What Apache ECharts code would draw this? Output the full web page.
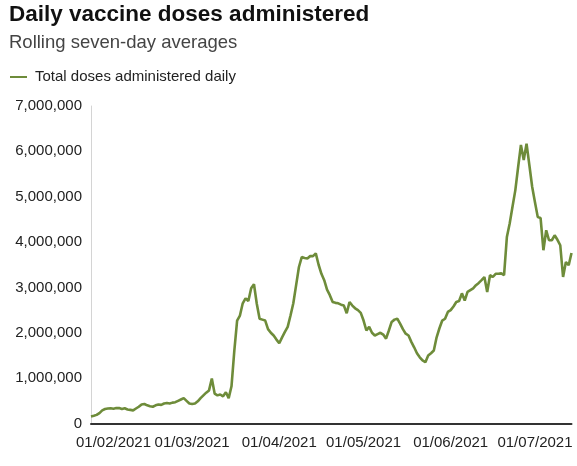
<!DOCTYPE html>
<html>
<head>
<meta charset="utf-8">
<script src="https://cdn.jsdelivr.net/npm/echarts@6/dist/echarts.min.js"></script>
<style>
  html, body { margin: 0; padding: 0; background: #fff; }
  #chart { width: 577px; height: 466px; }
</style>
</head>
<body>
<div id="chart"></div>
<script>
// Rolling seven-day average of vaccine doses per day, 24/01/2021 to 14/07/2021
const startDate = [2021, 0, 24];
const dailyDoses = [
  155000, 170000, 190000, 230000, 290000, 320000, 330000, 335000, 325000, 340000,
  340000, 320000, 335000, 310000, 300000, 290000, 330000, 370000, 420000, 430000,
  400000, 380000, 370000, 400000, 420000, 410000, 440000, 450000, 440000, 460000,
  470000, 500000, 530000, 560000, 500000, 440000, 430000, 440000, 490000, 560000,
  620000, 680000, 730000, 990000, 660000, 620000, 640000, 600000, 690000, 560000,
  820000, 1600000, 2270000, 2380000, 2650000, 2760000, 2700000, 2980000, 3070000, 2640000,
  2310000, 2290000, 2270000, 2080000, 2000000, 1940000, 1850000, 1770000, 1900000, 2020000,
  2130000, 2380000, 2650000, 3050000, 3450000, 3670000, 3650000, 3640000, 3690000, 3690000,
  3750000, 3500000, 3300000, 3160000, 2950000, 2830000, 2680000, 2660000, 2650000, 2620000,
  2600000, 2430000, 2680000, 2600000, 2540000, 2500000, 2440000, 2270000, 2050000, 2130000,
  2000000, 1940000, 1970000, 2000000, 1960000, 1870000, 2050000, 2240000, 2290000, 2310000,
  2200000, 2080000, 1980000, 1940000, 1800000, 1680000, 1550000, 1460000, 1390000, 1350000,
  1500000, 1550000, 1610000, 1900000, 2100000, 2270000, 2310000, 2460000, 2500000, 2580000,
  2680000, 2700000, 2870000, 2710000, 2900000, 2940000, 2980000, 3050000, 3100000, 3160000,
  3230000, 2900000, 3270000, 3230000, 3300000, 3300000, 3310000, 3270000, 4110000, 4410000,
  4780000, 5140000, 5650000, 6140000, 5810000, 6170000, 5700000, 5220000, 4880000, 4550000,
  4530000, 3820000, 4260000, 4040000, 4040000, 4150000, 4050000, 3930000, 3230000, 3560000,
  3490000, 3760000
];
const tickLabels = ['01/02/2021', '01/03/2021', '01/04/2021', '01/05/2021', '01/06/2021', '01/07/2021'];
const seriesName = 'Total doses administered daily';

// One DD/MM/YYYY category per day of data
const pad = n => String(n).padStart(2, '0');
const categories = dailyDoses.map((_, i) => {
  const d = new Date(startDate[0], startDate[1], startDate[2] + i);
  return pad(d.getDate()) + '/' + pad(d.getMonth() + 1) + '/' + d.getFullYear();
});

const FONT = '"Liberation Sans", Arial, Helvetica, sans-serif';
const GREEN = '#6e8c3a';

const chart = echarts.init(document.getElementById('chart'), null, { renderer: 'canvas' });
chart.setOption({
  animation: false,
  backgroundColor: '#fff',
  title: {
    text: 'Daily vaccine doses administered',
    subtext: 'Rolling seven-day averages',
    left: 9,
    top: 3,
    padding: 0,
    itemGap: 5,
    textStyle: { fontFamily: FONT, fontSize: 22.5, fontWeight: 'bold', color: '#111', lineHeight: 24 },
    subtextStyle: { fontFamily: FONT, fontSize: 18.5, color: '#444', lineHeight: 22 }
  },
  legend: {
    left: 10,
    top: 69,
    padding: 0,
    icon: 'rect',
    itemWidth: 17,
    itemHeight: 2,
    itemGap: 10,
    textStyle: { fontFamily: FONT, fontSize: 15, color: '#222', lineHeight: 16, padding: [0, 0, 0, 3] },
    data: [seriesName]
  },
  grid: { left: 91, right: 5.5, top: 106, bottom: 42.5, containLabel: false },
  xAxis: {
    type: 'category',
    data: categories,
    boundaryGap: false,
    axisLine: { show: true, lineStyle: { color: '#333', width: 2 } },
    axisTick: { show: false },
    axisLabel: {
      interval: (idx, value) => tickLabels.includes(value),
      margin: 12,
      fontFamily: FONT,
      fontSize: 15,
      color: '#222',
      hideOverlap: false
    },
    splitLine: { show: false }
  },
  yAxis: {
    type: 'value',
    min: 0,
    max: 7000000,
    interval: 1000000,
    axisLine: { show: true, lineStyle: { color: '#d4d4d4', width: 1 } },
    axisTick: { show: false },
    splitLine: { show: false },
    axisLabel: {
      margin: 9,
      fontFamily: FONT,
      fontSize: 15,
      color: '#222',
      formatter: v => v.toLocaleString('en-US')
    }
  },
  series: [{
    name: seriesName,
    type: 'line',
    data: dailyDoses,
    showSymbol: false,
    symbol: 'none',
    lineStyle: { color: GREEN, width: 2.6 },
    itemStyle: { color: GREEN }
  }]
});
</script>
</body>
</html>
